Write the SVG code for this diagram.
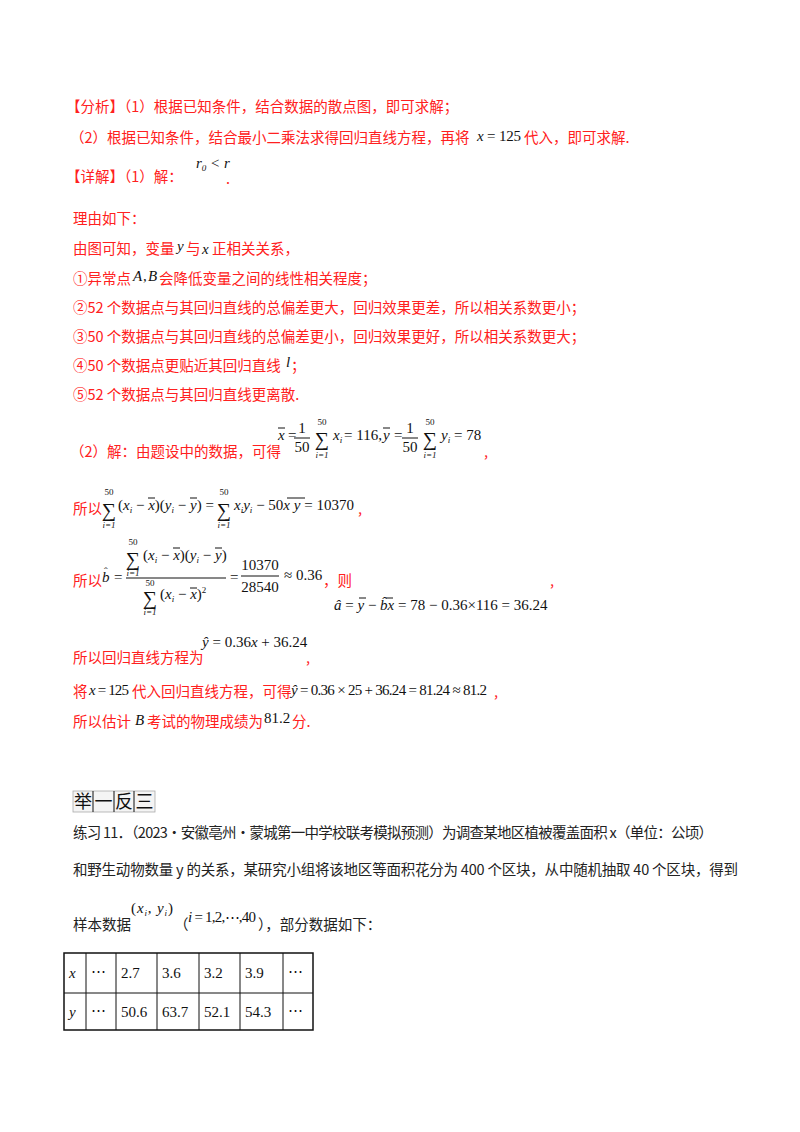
<svg xmlns="http://www.w3.org/2000/svg" width="800" height="1132" viewBox="0 0 800 1132">
<style>
.r{fill:#ff2020;font-family:"Noto Sans CJK SC",sans-serif;font-size:14.5px}
.k{fill:#222;font-family:"Noto Sans CJK SC",sans-serif;font-size:14.5px}
.m{fill:#111;font-family:"Liberation Serif",serif;font-size:15px}
.s{font-size:9px}
.i{font-style:italic}
.c{text-anchor:middle}
line{stroke:#111;stroke-width:1}
</style>
<rect width="800" height="1132" fill="#fff"/>
<text class="r" x="66" y="112">【分析】（1）根据已知条件，结合数据的散点图，即可求解；</text>
<text class="r" x="70" y="143">（2）根据已知条件，结合最小二乘法求得回归直线方程，再将</text>
<text class="m" x="477" y="141" textLength="44"><tspan class="i">x</tspan> = 125</text>
<text class="r" x="524" y="143">代入，即可求解.</text>
<text class="r" x="66" y="182">【详解】（1）解：</text>
<text class="m i" x="196" y="168">r<tspan class="s" dy="3">0</tspan><tspan dy="-3"> &lt; r</tspan></text>
<text class="r" x="226" y="184">.</text>
<text class="r" x="73" y="224">理由如下：</text>
<text class="r" x="73" y="254">由图可知，变量</text>
<text class="m i" x="177" y="251">y</text>
<text class="r" x="186" y="254">与</text>
<text class="m i" x="202" y="254">x</text>
<text class="r" x="212" y="254">正相关关系，</text>
<text class="r" x="73" y="284">①异常点</text>
<text class="m i" x="133" y="281">A</text><text class="m" x="143" y="281">,</text><text class="m i" x="148" y="281">B</text>
<text class="r" x="159" y="284">会降低变量之间的线性相关程度；</text>
<text class="r" x="73" y="313">②52 个数据点与其回归直线的总偏差更大，回归效果更差，所以相关系数更小；</text>
<text class="r" x="73" y="342">③50 个数据点与其回归直线的总偏差更小，回归效果更好，所以相关系数更大；</text>
<text class="r" x="73" y="371">④50 个数据点更贴近其回归直线</text>
<text class="m i" x="286" y="367">l</text>
<text class="r" x="291" y="371">；</text>
<text class="r" x="73" y="400">⑤52 个数据点与其回归直线更离散.</text>
<text class="r" x="70" y="457">（2）解：由题设中的数据，可得</text>
<g class="m">
<text x="278" y="440" class="i">x</text><line x1="278" y1="428" x2="285" y2="428"/>
<text x="288" y="440">=</text>
<text x="302" y="433" class="c">1</text><line x1="294" y1="438" x2="310" y2="438"/><text x="302" y="452" class="c">50</text>
<text x="322" y="446" font-size="20" class="c">∑</text><text x="322" y="425" class="s c">50</text><text x="322" y="458" class="s c i">i=1</text>
<text x="333" y="440" class="i">x<tspan class="s" dy="3">i</tspan></text>
<text x="344" y="440">= 116,</text>
<text x="383" y="440" class="i">y</text><line x1="383" y1="428" x2="390" y2="428"/>
<text x="394" y="440">=</text>
<text x="410" y="433" class="c">1</text><line x1="402" y1="438" x2="418" y2="438"/><text x="410" y="452" class="c">50</text>
<text x="430" y="446" font-size="20" class="c">∑</text><text x="430" y="425" class="s c">50</text><text x="430" y="458" class="s c i">i=1</text>
<text x="441" y="440" class="i">y<tspan class="s" dy="3">i</tspan></text>
<text x="454" y="440">= 78</text>
</g>
<text class="r" x="484" y="457">,</text>
<text class="r" x="73" y="514">所以</text>
<g class="m">
<text x="109" y="517" font-size="20" class="c">∑</text><text x="109" y="495" class="s c">50</text><text x="109" y="528" class="s c i">i=1</text>
<text x="118" y="510">(<tspan class="i">x</tspan><tspan class="s i" dy="3">i</tspan><tspan dy="-3"> − </tspan><tspan class="i">x</tspan>)(<tspan class="i">y</tspan><tspan class="s i" dy="3">i</tspan><tspan dy="-3"> − </tspan><tspan class="i">y</tspan>) =</text>
<line x1="148" y1="498" x2="155" y2="498"/><line x1="190" y1="498" x2="197" y2="498"/>
<text x="224" y="517" font-size="20" class="c">∑</text><text x="224" y="495" class="s c">50</text><text x="224" y="528" class="s c i">i=1</text>
<text x="234" y="510"><tspan class="i">x</tspan><tspan class="s i" dy="3">i</tspan><tspan class="i" dy="-3">y</tspan><tspan class="s i" dy="3">i</tspan><tspan dy="-3"> − 50</tspan><tspan class="i">x y</tspan> = 10370</text>
<line x1="287" y1="498" x2="305" y2="498"/>
</g>
<text class="r" x="358" y="514">,</text>
<text class="r" x="73" y="586">所以</text>
<g class="m">
<text x="102" y="582" class="i">b</text><text x="104" y="575" font-size="11">ˆ</text>
<text x="114" y="582">=</text>
<text x="133" y="566" font-size="20" class="c">∑</text><text x="133" y="545" class="s c">50</text><text x="133" y="576" class="s c i">i=1</text>
<text x="143" y="560">(<tspan class="i">x</tspan><tspan class="s i" dy="3">i</tspan><tspan dy="-3"> − </tspan><tspan class="i">x</tspan>)(<tspan class="i">y</tspan><tspan class="s i" dy="3">i</tspan><tspan dy="-3"> − </tspan><tspan class="i">y</tspan>)</text>
<line x1="173" y1="548" x2="180" y2="548"/><line x1="215" y1="548" x2="222" y2="548"/>
<line x1="126" y1="578" x2="226" y2="578"/>
<text x="150" y="605" font-size="20" class="c">∑</text><text x="150" y="586" class="s c">50</text><text x="150" y="615" class="s c i">i=1</text>
<text x="160" y="599">(<tspan class="i">x</tspan><tspan class="s i" dy="3">i</tspan><tspan dy="-3"> − </tspan><tspan class="i">x</tspan>)<tspan class="s" dy="-6">2</tspan></text>
<line x1="190" y1="588" x2="197" y2="588"/>
<text x="230" y="582">=</text>
<text x="260" y="570" class="c">10370</text><line x1="241" y1="576" x2="279" y2="576"/><text x="260" y="592" class="c">28540</text>
<text x="284" y="580">≈ 0.36</text>
</g>
<text class="r" x="323" y="586">，则</text>
<text class="r" x="550" y="586">,</text>
<g class="m">
<text x="334" y="610"><tspan class="i">â</tspan> = <tspan class="i">y</tspan> − <tspan class="i">b̂x</tspan> = 78 − 0.36×116 = 36.24</text>
<line x1="359" y1="598" x2="366" y2="598"/><line x1="386" y1="598" x2="393" y2="598"/>
</g>
<text class="r" x="73" y="663">所以回归直线方程为</text>
<text class="m" x="202" y="647"><tspan class="i">ŷ</tspan> = 0.36<tspan class="i">x</tspan> + 36.24</text>
<text class="r" x="306" y="663">,</text>
<text class="r" x="73" y="697">将</text>
<text class="m" x="89" y="695" textLength="40"><tspan class="i">x</tspan> = 125</text>
<text class="r" x="132" y="697">代入回归直线方程，可得</text>
<text class="m" x="291" y="695" textLength="196"><tspan class="i">ŷ</tspan> = 0.36 × 25 + 36.24 = 81.24 ≈ 81.2</text>
<text class="r" x="494" y="697">,</text>
<text class="r" x="73" y="727">所以估计</text>
<text class="m i" x="135" y="725" font-size="12">B</text>
<text class="r" x="147" y="727">考试的物理成绩为</text>
<text class="m" x="264" y="723">81.2</text>
<text class="r" x="292" y="727">分.</text>
<g id="header">
<rect x="73" y="791" width="82" height="21" fill="#f4f4f4" stroke="#aaa" stroke-width="0.8"/>
<line x1="93" y1="791" x2="93" y2="812" stroke="#bbb"/><line x1="114" y1="791" x2="114" y2="812" stroke="#bbb"/><line x1="134" y1="791" x2="134" y2="812" stroke="#bbb"/>
<text x="74" y="808" font-family="Noto Sans CJK SC,sans-serif" font-size="18" fill="#111" letter-spacing="2.5">举一反三</text>
</g>
<text class="k" x="73" y="838" textLength="640">练习 11．（2023·安徽亳州·蒙城第一中学校联考模拟预测）为调查某地区植被覆盖面积 x（单位：公顷）</text>
<text class="k" x="73" y="875" textLength="665">和野生动物数量 y 的关系，某研究小组将该地区等面积花分为 400 个区块，从中随机抽取 40 个区块，得到</text>
<text class="k" x="73" y="930">样本数据</text>
<text class="m" x="131" y="913" textLength="42">(<tspan class="i">x</tspan><tspan class="s i" dy="3">i</tspan><tspan dy="-3">, </tspan><tspan class="i">y</tspan><tspan class="s i" dy="3">i</tspan><tspan dy="-3">)</tspan></text>
<text class="k" x="174" y="930">（</text>
<text class="m" x="188" y="922" textLength="68"><tspan class="i">i</tspan> = 1,2,⋯,40</text>
<text class="k" x="258" y="930">），部分数据如下：</text>
<g id="table" fill="none" stroke="#111">
<rect x="64" y="953" width="249" height="77" stroke-width="1.5"/>
<line x1="64" y1="993" x2="313" y2="993"/>
<line x1="86" y1="953" x2="86" y2="1030"/><line x1="116" y1="953" x2="116" y2="1030"/><line x1="157" y1="953" x2="157" y2="1030"/><line x1="199" y1="953" x2="199" y2="1030"/><line x1="240" y1="953" x2="240" y2="1030"/><line x1="283" y1="953" x2="283" y2="1030"/>
</g>
<g class="m">
<text x="69" y="978" class="i">x</text><text x="91" y="976">⋯</text><text x="121" y="978">2.7</text><text x="162" y="978">3.6</text><text x="204" y="978">3.2</text><text x="245" y="978">3.9</text><text x="288" y="976">⋯</text>
<text x="69" y="1017" class="i">y</text><text x="91" y="1015">⋯</text><text x="121" y="1017">50.6</text><text x="162" y="1017">63.7</text><text x="204" y="1017">52.1</text><text x="245" y="1017">54.3</text><text x="288" y="1015">⋯</text>
</g>
</svg>
